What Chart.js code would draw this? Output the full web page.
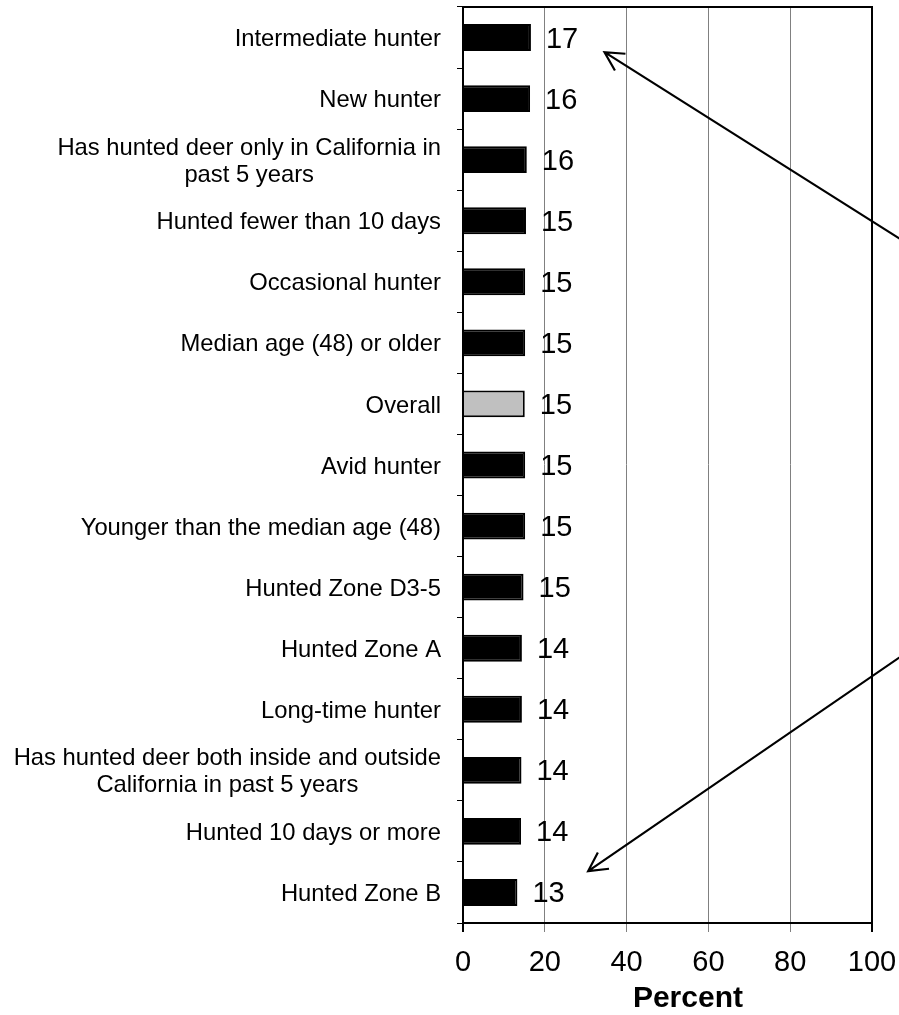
<!DOCTYPE html>
<html>
<head>
<meta charset="utf-8">
<title>Hunter groups</title>
<script src="https://cdn.jsdelivr.net/npm/chart.js@4.4.1/dist/chart.umd.min.js"></script>
<style>
    body { margin: 0; background: #fff; }
</style>
</head>
<body>
<canvas id="hunter_chart" width="899" height="1015"></canvas>
<script>
var categories = [
    ["Intermediate hunter"],
    ["New hunter"],
    ["Has hunted deer only in California in", "past 5 years"],
    ["Hunted fewer than 10 days"],
    ["Occasional hunter"],
    ["Median age (48) or older"],
    ["Overall"],
    ["Avid hunter"],
    ["Younger than the median age (48)"],
    ["Hunted Zone D3-5"],
    ["Hunted Zone A"],
    ["Long-time hunter"],
    ["Has hunted deer both inside and outside", "California in past 5 years"],
    ["Hunted 10 days or more"],
    ["Hunted Zone B"]
];
var percents = [16.6, 16.4, 15.6, 15.4, 15.2, 15.2, 15.1, 15.2, 15.2, 14.8, 14.4, 14.4, 14.3, 14.2, 13.3];
var x_ticks = [0, 20, 40, 60, 80, 100];
var highlight = "Overall";

// arrows, as [percent, category position]
var arrow_tails = [[110, 3.43], [110, 10.0]];
var arrow_heads = [[34.6, 0.24], [30.6, 13.65]];

var font_name = "'Liberation Sans', Arial, sans-serif";

var bar_colors = categories.map(function (c) {
    return c[0] === highlight ? '#c0c0c0' : '#000000';
});

var frame_plugin = {
    id: 'frame',
    beforeDatasetsDraw: function (chart) {
        var a = chart.chartArea, ctx = chart.ctx;
        ctx.save();
        ctx.strokeStyle = '#000';
        ctx.lineWidth = 2;
        ctx.strokeRect(a.left, a.top, a.right - a.left, a.bottom - a.top);
        ctx.restore();
    }
};

var label_plugin = {
    id: 'labels',
    afterDatasetsDraw: function (chart) {
        var ctx = chart.ctx;
        var y = chart.scales.y;
        var x = chart.scales.x;
        ctx.save();
        ctx.fillStyle = '#000';

        // values next to the bars
        ctx.font = '29px ' + font_name;
        ctx.textAlign = 'left';
        ctx.textBaseline = 'middle';
        chart.getDatasetMeta(0).data.forEach(function (bar, i) {
            ctx.fillText(String(Math.round(percents[i])), bar.x + 15, bar.y + 2);
        });

        // category names, block right aligned, lines centred
        ctx.font = '23.8px ' + font_name;
        ctx.textAlign = 'center';
        var right = y.right - 22;
        categories.forEach(function (lines, i) {
            var w = 0;
            lines.forEach(function (l) { w = Math.max(w, ctx.measureText(l).width); });
            var cy = y.getPixelForValue(i) + 2 - (lines.length - 1) * 27 / 2;
            lines.forEach(function (l, j) {
                ctx.fillText(l, right - w / 2, cy + j * 27);
            });
        });

        // axis title
        ctx.font = 'bold 30px ' + font_name;
        ctx.fillText('Percent', x.getPixelForValue(55), 999);
        ctx.restore();
    }
};

var arrow_plugin = {
    id: 'arrows',
    afterDraw: function (chart) {
        var ctx = chart.ctx;
        var sx = chart.scales.x, sy = chart.scales.y;
        ctx.save();
        ctx.strokeStyle = '#000';
        ctx.lineWidth = 2.2;
        for (var i = 0; i < arrow_tails.length; i++) {
            var x0 = sx.getPixelForValue(arrow_tails[i][0]);
            var y0 = sy.getPixelForValue(arrow_tails[i][1]);
            var x1 = sx.getPixelForValue(arrow_heads[i][0]);
            var y1 = sy.getPixelForValue(arrow_heads[i][1]);
            var ang = Math.atan2(y0 - y1, x0 - x1);
            var spread = 28 * Math.PI / 180;
            ctx.beginPath();
            ctx.moveTo(x0, y0);
            ctx.lineTo(x1, y1);
            ctx.moveTo(x1 + 21 * Math.cos(ang - spread), y1 + 21 * Math.sin(ang - spread));
            ctx.lineTo(x1, y1);
            ctx.lineTo(x1 + 21 * Math.cos(ang + spread), y1 + 21 * Math.sin(ang + spread));
            ctx.stroke();
        }
        ctx.restore();
    }
};

new Chart(document.getElementById('hunter_chart'), {
    type: 'bar',
    data: {
        labels: categories.map(function (c) { return c.join(' '); }),
        datasets: [
            {
                data: percents,
                backgroundColor: bar_colors,
                borderColor: '#000',
                borderWidth: 2,
                barPercentage: 0.44,
                categoryPercentage: 1
            }
        ]
    },
    options: {
        indexAxis: 'y',
        responsive: false,
        animation: false,
        layout: { padding: { top: 7, right: 27, left: 0, bottom: 0 } },
        plugins: {
            legend: { display: false },
            tooltip: { enabled: false }
        },
        scales: {
            x: {
                type: 'linear',
                min: 0,
                max: 100,
                afterBuildTicks: function (scale) {
                    scale.ticks = x_ticks.map(function (v) { return { value: v }; });
                },
                afterFit: function (scale) {
                    scale.height = 92;
                    scale.paddingLeft = 0;
                    scale.paddingRight = 0;
                },
                ticks: {
                    color: '#000',
                    padding: 14,
                    maxRotation: 0,
                    font: { family: font_name, size: 29 }
                },
                grid: {
                    tickLength: 9,
                    color: function (c) {
                        return (c.tick && (c.tick.value === 0 || c.tick.value === 100)) ? '#000' : '#808080';
                    },
                    lineWidth: function (c) {
                        return (c.tick && (c.tick.value === 0 || c.tick.value === 100)) ? 2 : 1;
                    }
                },
                border: { color: '#000', width: 2 }
            },
            y: {
                type: 'category',
                offset: true,
                afterFit: function (scale) { scale.width = 463; },
                ticks: { display: false },
                grid: {
                    offset: true,
                    drawOnChartArea: false,
                    tickLength: 6,
                    color: '#000',
                    lineWidth: 1
                },
                border: { color: '#000', width: 2 }
            }
        }
    },
    plugins: [frame_plugin, label_plugin, arrow_plugin]
});
</script>
</body>
</html>
